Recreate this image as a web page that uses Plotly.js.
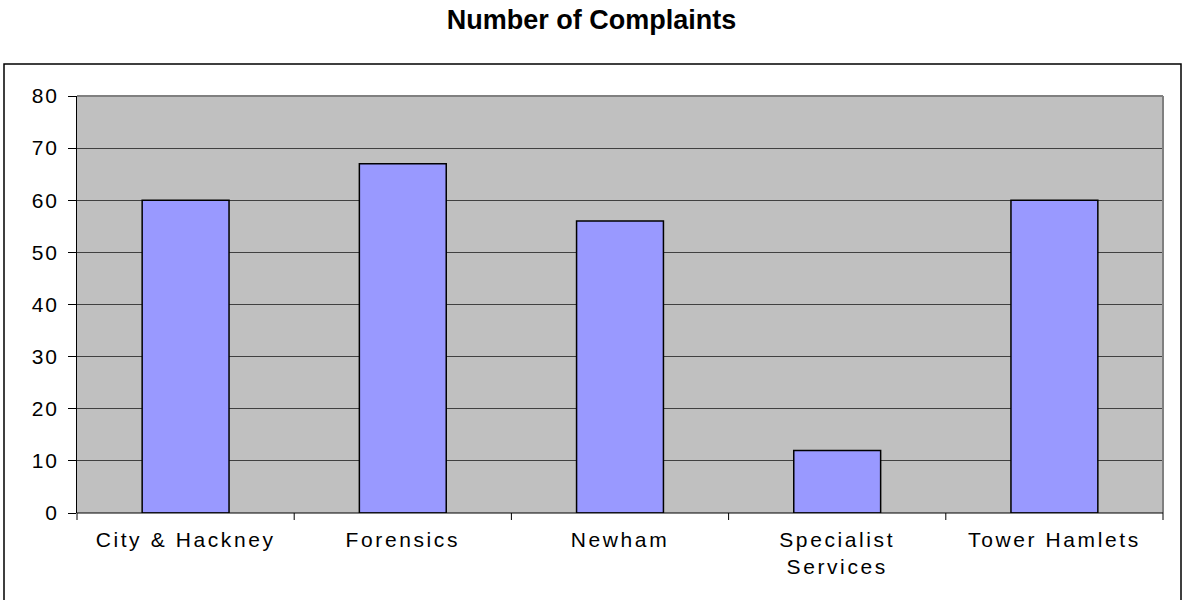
<!DOCTYPE html>
<html>
<head>
<meta charset="utf-8">
<script src="https://cdn.plot.ly/plotly-3.0.1.min.js"></script>
<style>
  html, body { margin: 0; padding: 0; background: #ffffff; }
  #chart { width: 1183px; height: 600px; }
  /* wide, spreadsheet-style lettering on the axis labels */
  #chart .xtick text { letter-spacing: 2.6px; }
  #chart .ytick text { letter-spacing: 1.8px; }
</style>
</head>
<body>
<div id="chart"></div>
<script>
// Complaints received per service area
const categories = ["City & Hackney", "Forensics", "Newham", "Specialist<br>Services", "Tower Hamlets"];
const complaints = [60, 67, 56, 12, 60];
const yTicks = [0, 10, 20, 30, 40, 50, 60, 70, 80];

const FONT = "Arial, Liberation Sans, sans-serif";

const trace = {
  type: "bar",
  x: categories,
  y: complaints,
  width: 0.4,
  marker: { color: "#9999FF", line: { color: "#000000", width: 1.5 } },
  hoverinfo: "x+y"
};

const layout = {
  width: 1183,
  height: 600,
  margin: { l: 77, r: 20, t: 96, b: 87, pad: 0 },
  paper_bgcolor: "#ffffff",
  plot_bgcolor: "#C0C0C0",
  showlegend: false,
  title: {
    text: "Number of Complaints",
    font: { family: FONT, size: 27, weight: "bold", color: "#000000" },
    x: 0.5, xanchor: "center",
    y: 0.967, yanchor: "middle"
  },
  xaxis: {
    type: "category",
    range: [-0.5, 4.5],
    showgrid: false,
    showline: false,
    ticks: "",
    ticklabelstandoff: 12,
    tickfont: { family: FONT, size: 21, color: "#000000" },
    fixedrange: true
  },
  yaxis: {
    range: [0, 80],
    tickvals: yTicks,
    ticktext: yTicks.map(String),
    ticks: "outside",
    ticklen: 8,
    tickcolor: "#000000",
    tickwidth: 1,
    showline: true,
    linecolor: "#000000",
    linewidth: 1,
    showgrid: true,
    gridcolor: "#404040",
    gridwidth: 1,
    zeroline: false,
    tickfont: { family: FONT, size: 21, color: "#000000" },
    ticklabelstandoff: 5,
    fixedrange: true
  },
  shapes: [
    // plot area frame on top and right
    { type: "line", xref: "paper", yref: "paper", x0: 0, x1: 1, y0: 1, y1: 1, line: { color: "#808080", width: 2 } },
    { type: "line", xref: "paper", yref: "paper", x0: 1, x1: 1, y0: 0, y1: 1, line: { color: "#808080", width: 2 } },
    // baseline
    { type: "line", xref: "paper", yref: "paper", x0: 0, x1: 1, y0: 0, y1: 0, line: { color: "#000000", width: 1 } },
    // outer chart border (bottom edge runs past the page)
    { type: "rect", xref: "paper", yref: "paper",
      x0: (4 - 77) / 1086, x1: (1181 - 77) / 1086,
      y0: (513 - 620) / 417, y1: (513 - 64) / 417,
      line: { color: "#000000", width: 1.5 }, fillcolor: "rgba(0,0,0,0)", layer: "below" }
  ]
};

// category boundary ticks below the baseline
for (let i = 0; i <= categories.length; i++) {
  const xp = i / categories.length;
  layout.shapes.push({ type: "line", xref: "paper", yref: "paper",
    x0: xp, x1: xp, y0: 0, y1: -7 / 417, line: { color: "#000000", width: 1 } });
}

Plotly.newPlot("chart", [trace], layout, { displayModeBar: false, staticPlot: true });
</script>
</body>
</html>
